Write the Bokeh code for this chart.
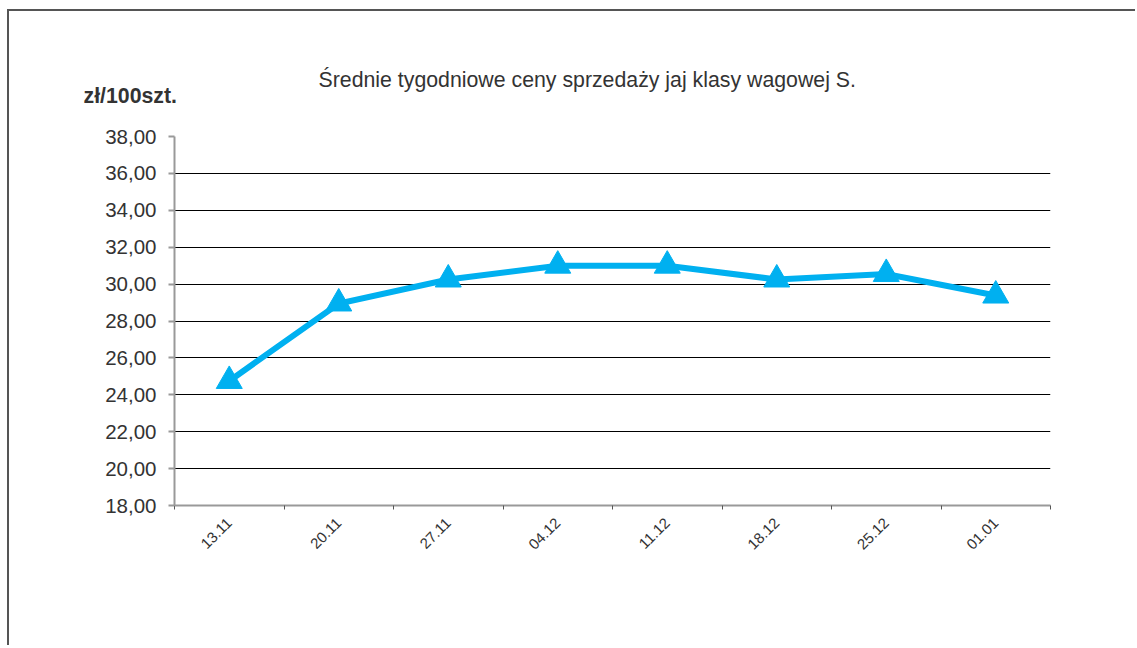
import math
from bokeh.plotting import figure
from bokeh.models import Range1d, FixedTicker, Title
from bokeh.embed import file_html
from bokeh.resources import INLINE

categories = ["13.11", "20.11", "27.11", "04.12", "11.12", "18.12", "25.12", "01.01"]
prices = [24.75, 28.95, 30.25, 31.0, 31.0, 30.25, 30.55, 29.38]
y_ticks = [18, 20, 22, 24, 26, 28, 30, 32, 34, 36, 38]
y_tick_labels = ["18,00", "20,00", "22,00", "24,00", "26,00", "28,00", "30,00",
                 "32,00", "34,00", "36,00", "38,00"]
title_text = "Średnie tygodniowe ceny sprzedaży jaj klasy wagowej S."
unit_text = "zł/100szt."

xs = [i + 0.5 for i in range(len(categories))]
boundaries = list(range(len(categories) + 1))

p = figure(width=1128, height=636, output_backend="svg", toolbar_location=None,
           title=None,
           x_range=Range1d(0, len(categories)), y_range=Range1d(y_ticks[0], y_ticks[-1]),
           min_border_left=165, min_border_right=87, min_border_top=125, min_border_bottom=142)
p.styles = {"border-top": "2px solid #555555", "border-left": "2px solid #555555",
            "margin-left": "7px", "margin-top": "9px"}
p.outline_line_color = None
p.background_fill_color = "white"
p.border_fill_color = "white"

# y axis
yax = p.yaxis[0]
yax.ticker = FixedTicker(ticks=y_ticks, minor_ticks=[])
yax.major_label_overrides = {t: l for t, l in zip(y_ticks, y_tick_labels)}
yax.axis_line_color = "#999999"
yax.axis_line_width = 2
yax.major_tick_line_color = "#999999"
yax.major_tick_line_width = 2
yax.major_tick_out = 6
yax.major_tick_in = 0
yax.minor_tick_line_color = None
yax.major_label_standoff = 12
yax.major_label_text_font = "Liberation Sans"
yax.major_label_text_font_size = "20.5px"
yax.major_label_text_color = "#333333"

# x axis
xax = p.xaxis[0]
xax.ticker = FixedTicker(ticks=xs, minor_ticks=boundaries)
xax.major_label_overrides = {x: c for x, c in zip(xs, categories)}
xax.major_label_orientation = math.pi / 4
xax.axis_line_color = "#999999"
xax.axis_line_width = 2
xax.major_tick_line_color = None
xax.minor_tick_line_color = "#555555"
xax.minor_tick_out = 4
xax.minor_tick_in = 0
xax.major_label_standoff = 9
xax.major_label_text_font = "Liberation Sans"
xax.major_label_text_font_size = "15px"
xax.major_label_text_color = "#333333"

p.xgrid.grid_line_color = None
p.ygrid.ticker = FixedTicker(ticks=y_ticks[1:])
p.ygrid.grid_line_color = "black"
p.ygrid.grid_line_width = 1

p.line(xs, prices, line_color="#00B0F0", line_width=6, line_join="miter")
p.scatter(xs, prices, marker="triangle", size=26, fill_color="#00B0F0",
          line_color="#00B0F0")

p.add_layout(Title(text=unit_text, align="left", offset=-91, standoff=57,
                   text_font="Liberation Sans", text_font_size="21.3px",
                   text_font_style="bold", text_color="#333333"), "above")
p.add_layout(Title(text=title_text, align="left", offset=144, standoff=-77,
                   text_font="Liberation Sans", text_font_size="21.3px",
                   text_font_style="normal", text_color="#333333"), "above")

open("out.html", "w").write(file_html(p, INLINE))
